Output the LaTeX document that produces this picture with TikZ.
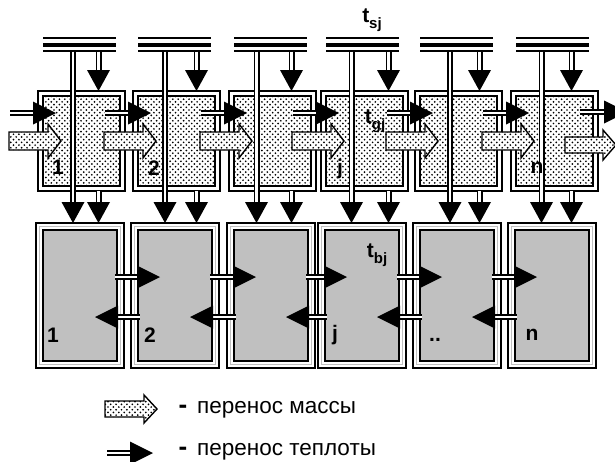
\documentclass[tikz,border=0pt]{standalone}
\usepackage{fontspec}
\setmainfont{Liberation Sans}
\usetikzlibrary{patterns}
\definecolor{silver}{HTML}{C0C0C0}
\pgfdeclarepatternformonly{mydots}{\pgfqpoint{-1.2pt}{-1.2pt}}{\pgfqpoint{4.2pt}{4.2pt}}{\pgfqpoint{5.4pt}{5.4pt}}{%
 \pgfpathcircle{\pgfqpoint{0pt}{0pt}}{0.95pt}%
 \pgfpathcircle{\pgfqpoint{2.7pt}{2.7pt}}{0.95pt}%
 \pgfusepath{fill}}
\tikzset{
  dline/.style={draw=black, line width=1.7pt, double=white, double distance=2.6pt},
  busthin/.style={line width=1.6pt},
  busthick/.style={line width=4pt},
  dotfill/.style={preaction={fill=white}, pattern=mydots},
  upbox/.style={line width=1.8pt},
  lab/.style={font=\fontsize{21}{21}\selectfont\bfseries, inner sep=0pt},
  legtext/.style={font=\fontsize{22.5}{22.5}\selectfont, inner sep=0pt, anchor=west},
}
\newcommand\Sb[1]{\raisebox{-0.3em}{\fontsize{15}{15}\selectfont #1}}
\newcommand\TriD[2]{\fill (#1,#2) -- ++(-11.5,-21) -- ++(23,0) -- cycle;}
\newcommand\TriR[2]{\fill (#1,#2) -- ++(-23,-11.5) -- ++(0,23) -- cycle;}
\newcommand\TriL[2]{\fill (#1,#2) -- ++(23,-11.5) -- ++(0,23) -- cycle;}
% mass arrow: start x, tip x, centre y, body half height, head half height
\newcommand\MassA[5]{\draw[line width=1.4pt, dotfill]
  (#1,#3-#4) -- (#2-13,#3-#4) -- (#2-13,#3-#5) -- (#2,#3) -- (#2-13,#3+#5)
  -- (#2-13,#3+#4) -- (#1,#3+#4) -- cycle;}
\begin{document}
\begin{tikzpicture}[x=1pt,y=-1pt]
\useasboundingbox (0,0) rectangle (615,461);
% ---------- upper row ----------
\foreach \L in {38,133,229,321,415,511}{
  \draw[upbox] (\L,91) rectangle (\L+87,191);
  \draw[upbox, dotfill] (\L+5,96) rectangle (\L+82,186);
  \draw[busthin] (\L+5,38) -- (\L+78,38);
  \draw[busthick] (\L+5,44.5) -- (\L+78,44.5);
  \draw[busthin] (\L+5,51) -- (\L+78,51);
}
\foreach \L in {38,133,229,321,415,511}{
  \draw[dline] (\L-28,113) -- (\L-4,113);
  \TriR{\L+18}{113}
  \MassA{\L-29}{\L+23}{141}{9}{17}
}
% exit arrows
\draw[dline] (580,112) -- (604,112);
\TriR{627}{112}
\MassA{565}{616}{145}{8}{15}
% vertical streams
\foreach \p/\r in {73/98.5,165/196.5,256.5/291.5,351.5/388.5,450/479.5,541.5/571.5}{
  \draw[dline] (\p,51.5) -- (\p,203);
  \TriD{\p}{223}
  \draw[dline] (\r,51.5) -- (\r,71);
  \TriD{\r}{91}
  \draw[dline] (\r,191) -- (\r,203);
  \TriD{\r}{223}
}
% ---------- lower row ----------
\foreach \l in {36,131,227,318,413,508}{
  \draw[line width=1.5pt] (\l,223) rectangle (\l+88,368);
  \draw[line width=1pt, draw=silver] (\l+3.5,226.5) rectangle (\l+84.5,364.5);
  \draw[line width=2pt, fill=silver] (\l+7,230) rectangle (\l+81,361);
}
\foreach \l/\n in {36/131,131/227,227/318,318/413,413/508}{
  \draw[dline] (\l+79,277) -- (\n+8,277);
  \TriR{\n+29}{277}
  \draw[dline] (\l+80,317) -- (\n+9,317);
  \TriL{\l+59}{317}
}
% ---------- labels ----------
\node[lab] (u1) at (58,167) {1};
\node[lab] (u2) at (154,168) {2};
\node[lab] (uj) at (340,169) {j};
\node[lab] (un) at (537,168) {n};
\node[lab] (tg) at (375,121) {t\Sb{gj}};
\node[lab] (ts) at (372,20) {t\Sb{sj}};
\node[lab] (tb) at (377,255) {t\Sb{bj}};
\node[lab] (l1) at (53,335) {1};
\node[lab] (l2) at (150,335) {2};
\node[lab] (lj) at (335,335) {j};
\node[lab] (ld) at (435,340) {..};
\node[lab] (ln) at (532,335) {n};
% ---------- legend ----------
\MassA{105}{157}{409}{8}{14}
\node[lab, font=\fontsize{26}{26}\selectfont\bfseries] (d1) at (183,409) {-};
\node[legtext] (t1) at (197,410) {перенос массы};
\draw[dline] (107,453) -- (131,453);
\TriR{153}{453}
\node[lab, font=\fontsize{26}{26}\selectfont\bfseries] (d2) at (183,451) {-};
\node[legtext] (t2) at (197,452) {перенос теплоты};
\end{tikzpicture}
\end{document}
